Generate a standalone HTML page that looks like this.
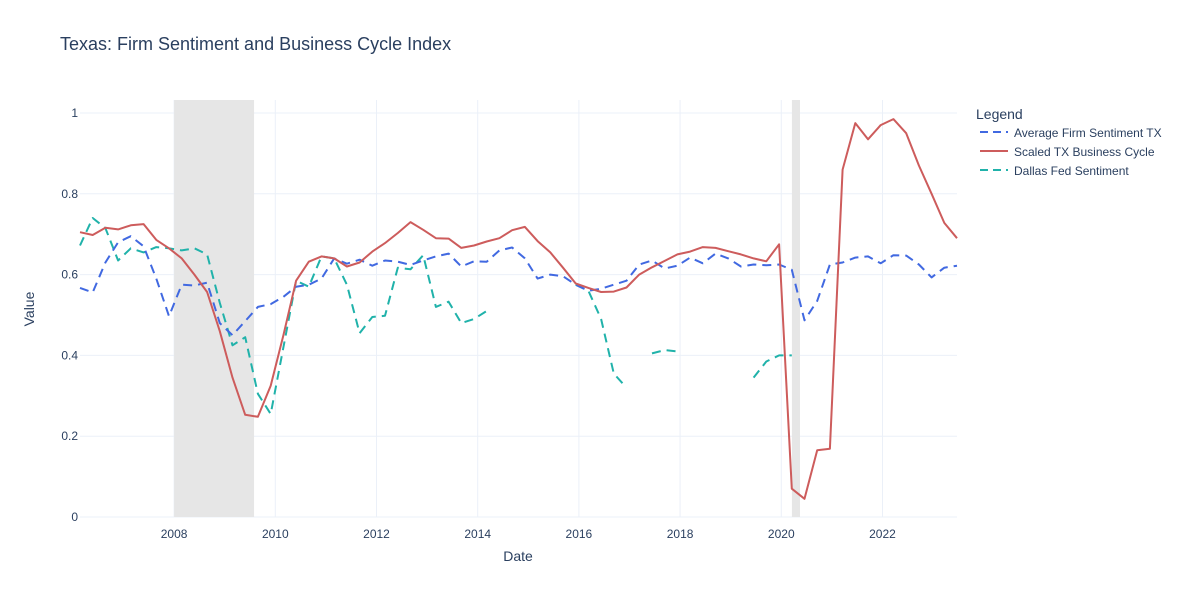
<!DOCTYPE html>
<html><head><meta charset="utf-8"><style>
body{margin:0;background:#fff;font-family:"Liberation Sans",Arial,sans-serif}
svg text{font-family:"Liberation Sans",Arial,sans-serif;fill:#2a3f5f}
</style></head><body>
<svg id="chart" width="1200" height="600" xmlns="http://www.w3.org/2000/svg">
<rect width="1200" height="600" fill="#fff"/>
<text x="60" y="50" font-size="18">Texas: Firm Sentiment and Business Cycle Index</text>
<g id="grid"></g><g id="shade"></g><g id="series"></g><g id="axes"></g>
<text x="518" y="561" font-size="14" text-anchor="middle">Date</text>
<text transform="translate(34,309) rotate(-90)" font-size="14" text-anchor="middle">Value</text>
<g>
<text x="976" y="119" font-size="14">Legend</text>
<g><line x1="980" y1="132" x2="1008" y2="132" stroke="#4169e1" stroke-width="2" stroke-dasharray="8,5"/><text x="1014" y="137" font-size="12">Average Firm Sentiment TX</text></g>
<g><line x1="980" y1="151" x2="1008" y2="151" stroke="#cd5c5c" stroke-width="2"/><text x="1014" y="156" font-size="12">Scaled TX Business Cycle</text></g>
<g><line x1="980" y1="170" x2="1008" y2="170" stroke="#20b2aa" stroke-width="2" stroke-dasharray="8,5"/><text x="1014" y="175" font-size="12">Dallas Fed Sentiment</text></g>
</g>
</svg>
<script>
const startYear = 2006.14;
const stepYear = 0.2512;
const businessCycle = [0.705,0.698,0.716,0.712,0.722,0.725,0.686,0.665,0.640,0.600,0.557,0.46,0.345,0.253,0.248,0.325,0.45,0.585,0.632,0.645,0.640,0.620,0.630,0.657,0.678,0.703,0.730,0.711,0.690,0.689,0.666,0.672,0.682,0.690,0.710,0.718,0.683,0.655,0.617,0.578,0.567,0.557,0.558,0.568,0.600,0.618,0.634,0.650,0.657,0.668,0.666,0.658,0.650,0.640,0.633,0.675,0.07,0.045,0.165,0.169,0.86,0.975,0.935,0.970,0.985,0.95,0.87,0.80,0.728,0.69];
const avgFirm = [0.567,0.556,0.63,0.680,0.695,0.670,0.590,0.497,0.575,0.573,0.580,0.480,0.450,0.485,0.520,0.527,0.545,0.570,0.575,0.590,0.640,0.627,0.637,0.622,0.635,0.632,0.624,0.635,0.645,0.652,0.620,0.633,0.632,0.660,0.667,0.640,0.590,0.600,0.596,0.575,0.560,0.565,0.575,0.585,0.625,0.635,0.615,0.622,0.642,0.628,0.652,0.640,0.620,0.625,0.623,0.625,0.612,0.487,0.535,0.625,0.630,0.642,0.645,0.628,0.648,0.647,0.625,0.593,0.617,0.622];
const dallasFed = [0.672,0.740,0.715,0.635,0.665,0.655,0.668,0.665,0.660,0.665,0.650,0.530,0.425,0.445,0.305,0.255,0.42,0.585,0.570,0.645,0.640,0.575,0.455,0.495,0.498,0.617,0.613,0.648,0.520,0.533,0.480,0.490,0.510,null,null,null,null,null,null,0.575,0.56,0.49,0.355,0.32,null,0.405,0.413,0.41,null,null,null,null,null,0.345,0.385,0.40,0.40,null,null,null,null,null,null,null,null,null,null,null,null,null];
const recessions = [[2008.0,2009.58],[2020.21,2020.37]];
const xTicks = [2008,2010,2012,2014,2016,2018,2020,2022];
const yTicks = [0,0.2,0.4,0.6,0.8,1];

const NS="http://www.w3.org/2000/svg";
const X0=80,X1=957,Y0=517,Y1=113;
const xMin=startYear, xMax=startYear+stepYear*(businessCycle.length-1);
const xs=t=>X0+(t-xMin)/(xMax-xMin)*(X1-X0);
const ys=v=>Y0-v*(Y0-Y1);
function mk(tag,attrs,parent){const e=document.createElementNS(NS,tag);for(const k in attrs)e.setAttribute(k,attrs[k]);parent.appendChild(e);return e;}
const grid=document.getElementById('grid'),shade=document.getElementById('shade'),series=document.getElementById('series'),axes=document.getElementById('axes');
yTicks.forEach(v=>{
  const l=mk('line',{x1:X0,x2:X1,y1:ys(v),y2:ys(v),stroke:'#ebf0f8','stroke-width':1},grid);
  
  
  const t=mk('text',{x:X0-2,y:ys(v)+4,'font-size':12,'text-anchor':'end'},axes);
  t.textContent=v===0?'0':v===1?'1':v.toFixed(1);
  
  
});
xTicks.forEach(v=>{
  const l=mk('line',{x1:xs(v),x2:xs(v),y1:Y1-13,y2:Y0,stroke:'#ebf0f8','stroke-width':1},grid);
  
  
  const t=mk('text',{x:xs(v),y:Y0+21,'font-size':12,'text-anchor':'middle'},axes);
  t.textContent=v;
  
  
});
recessions.forEach(r=>{
  const e=mk('rect',{x:xs(r[0]),y:Y1-13,width:xs(r[1])-xs(r[0]),height:Y0-Y1+13,fill:'#e6e6e6'},shade);
  
  
});
function draw(arr,color,dash,name){
  let d='',pen=false;
  arr.forEach((v,i)=>{
    if(v===null){pen=false;return;}
    d+=(pen?'L':'M')+xs(xMin+i*stepYear).toFixed(1)+','+ys(v).toFixed(1);pen=true;
  });
  const p=mk('path',{d:d,fill:'none',stroke:color,'stroke-width':2,'stroke-dasharray':dash,'stroke-linejoin':'round'},series);
  
  
}
draw(dallasFed,'#20b2aa','9,6','dallas-fed-line');
draw(avgFirm,'#4169e1','9,6','avg-firm-sentiment-line');
draw(businessCycle,'#cd5c5c','none','business-cycle-line');
</script>
</body></html>
